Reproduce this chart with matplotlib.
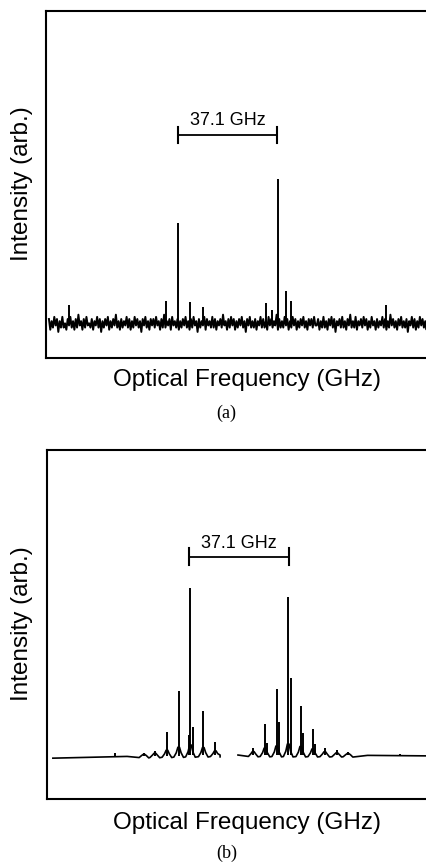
import numpy as np
import matplotlib
matplotlib.use("Agg")
import matplotlib.pyplot as plt

plt.rcParams['font.family'] = ['Liberation Sans', 'DejaVu Sans']

# ---- panel (a): noisy spectrum, two comb lines 37.1 GHz apart ----
a_base = 0.100
a_noise_unit = 0.0062
a_noise_start, a_noise_end = 1.1, 151.0
a_noise = [
    2, -3, 1, -2, 3, -1, 2, -4, 1, -2, 3, -2, 0, -3, 2, -1, 3, -2, 1, -3,
    2, -2, 4, -1, 1, -3, 2, -2, 3, -1, 0, -2, 2, -3, 1, -1, 3, -2, 2, -4,
    1, -2, 2, -1, 3, -3, 1, -2, 2, -1, 4, -2, 1, -3, 2, -2, 1, -1, 3, -2,
    2, -3, 1, -2, 3, -1, 2, -2, 1, -4, 2, -1, 3, -2, 1, -3, 2, -1, 2, -2,
    3, -1, 1, -3, 2, -2, 4, -2, 1, -1, 2, -3, 3, -1, 1, -2, 2, -3, 1, -2,
    2, -1, 3, -2, 1, -3, 2, -2, 3, -1, 1, -4, 2, -2, 1, -1, 3, -3, 2, -1,
    1, -2, 3, -2, 2, -3, 1, -1, 2, -2, 4, -1, 1, -3, 2, -2, 3, -1, 2, -3,
    1, -2, 2, -1, 3, -2, 1, -4, 2, -1, 3, -2, 1, -2, 2, -3, 1, -1, 3, -2,
    2, -2, 1, -3, 3, -1, 2, -2, 1, -1, 4, -3, 2, -2, 1, -2, 3, -1, 2, -3,
    1, -2, 3, -1, 2, -3, 1, -2, 2, -1, 3, -2, 1, -3, 2, -1, 2, -2, 3, -1,
    -1, 2, -3, 1, -2, 3, -2, 1, -3, 2, -1, 3, -2, 2, -4, 1, -1, 2, -2, 3,
    -2, 1, -3, 2, -1, 4, -2, 1, -2, 3, -3, 1, -1, 2, -2, 3, -1, 2, -3, 1,
    -2, 3, -1, 1, -3, 2, -2, 1, -1, 3, -2, 2, -3, 1, -2, 4, -1, 2, -2, 1,
    -3, 2, -1, 3, -2, 1, -2, 2, -4, 1, -1, 3, -2, 2, -3, 1, -2, 3, -1, 2,
    -2, 1, -3, 3, -1, 2, -2, 1, -1, 3, -3, 2, -2, 1, -2, 4, -1, 2, -3, 1,
]
a_peak_f = [8.7, 44.9, 49.4, 54.0, 58.8, 82.3, 84.5, 86.9, 89.7, 91.7, 127.3]
a_peak_h = [0.153, 0.165, 0.390, 0.162, 0.147, 0.159, 0.138, 0.515, 0.193, 0.164, 0.153]
a_span = (49.4, 86.5)

# ---- panel (b): clean spectrum, two comb groups ----
b_base_f = [2.2, 30.0, 64.8]
b_base_y = [0.117, 0.122, 0.126]
b_base2_f = [71.5, 120.0, 151.0]
b_base2_y = [0.126, 0.125, 0.123]
b_peak_f = [25.5, 36.3, 40.4, 44.9, 49.3, 53.2, 53.7, 54.5, 58.5, 63.0,
            77.2, 81.6, 82.5, 86.0, 86.7, 90.3, 91.2, 95.0, 95.8, 99.5,
            100.3, 104.0, 108.5, 112.7, 132.2]
b_peak_h = [0.133, 0.133, 0.138, 0.191, 0.310, 0.183, 0.605, 0.207, 0.253, 0.162,
            0.147, 0.215, 0.160, 0.314, 0.221, 0.580, 0.346, 0.267, 0.189, 0.201,
            0.158, 0.145, 0.140, 0.136, 0.130]
b_hump = [0.0, 0.005, 0.008, 0.016, 0.024, 0.0, 0.030, 0.0, 0.022, 0.012,
          0.010, 0.020, 0.0, 0.026, 0.0, 0.032, 0.0, 0.025, 0.0, 0.018,
          0.0, 0.010, 0.007, 0.005, 0.0]
b_span = (53.2, 90.6)

span_label = "37.1 GHz"
xlabel = "Optical Frequency (GHz)"
ylabel = "Intensity (arb.)"
xlim = (0, 150.5)

W, H = 426, 864
fig = plt.figure(figsize=(W / 100, H / 100), dpi=100)
ax_a = fig.add_axes([46 / W, 1 - 358 / H, 402 / W, 347 / H])
ax_b = fig.add_axes([47 / W, 1 - 799 / H, 402 / W, 349 / H])

for ax in (ax_a, ax_b):
    ax.set_xlim(*xlim)
    ax.set_ylim(0, 1)
    ax.set_xticks([])
    ax.set_yticks([])
    for s in ax.spines.values():
        s.set_linewidth(1.5)
        s.set_color('black')


def bracket(ax, x0, x1, y, tick, label, lx, ly):
    ax.plot([x0, x1], [y, y], color='black', lw=1.3)
    ax.plot([x0, x0], [y - tick, y + tick], color='black', lw=1.5)
    ax.plot([x1, x1], [y - tick, y + tick], color='black', lw=1.5)
    ax.text(lx, ly, label, ha='center', va='center', fontsize=13)


# panel (a)
nx = np.linspace(a_noise_start, a_noise_end, len(a_noise))
ny = a_base + np.array(a_noise) * a_noise_unit
ax_a.plot(nx, ny, color='black', lw=1.4)
ax_a.vlines(a_peak_f, a_base, a_peak_h, color='black', lw=1.4)
bracket(ax_a, a_span[0], a_span[1], 0.643, 0.022, span_label, 68.1, 0.684)

# panel (b): baseline with humps under the comb lines
def trace(base_f, base_y, peaks):
    xs = list(base_f)
    ys = list(base_y)
    lo, hi = base_f[0], base_f[-1]
    for f, hump in peaks:
        if hump <= 0 or not (lo < f < hi):
            continue
        b = np.interp(f, base_f, base_y)
        xs += [f - 1.8, f - 0.9, f - 0.3, f + 0.3, f + 0.9, f + 1.8]
        ys += [b - 0.004, b + hump * 0.35, b + hump, b + hump, b + hump * 0.35, b - 0.005]
    order = np.argsort(xs)
    return np.array(xs)[order], np.array(ys)[order]


peaks = list(zip(b_peak_f, b_hump))
x1, y1 = trace(b_base_f, b_base_y, peaks)
x2, y2 = trace(b_base2_f, b_base2_y, peaks)
ax_b.plot(x1, y1, color='black', lw=1.2)
ax_b.plot(x2, y2, color='black', lw=1.2)
b_lo = np.interp(b_peak_f, b_base_f + b_base2_f, b_base_y + b_base2_y)
ax_b.vlines(b_peak_f, b_lo, b_peak_h, color='black', lw=1.4)
bracket(ax_b, b_span[0], b_span[1], 0.694, 0.024, span_label, 72.0, 0.731)

# labels
for yc, xl_y, tag, tag_y in [(0.787, 0.560, "(a)", 0.522), (0.2784, 0.0471, "(b)", 0.0127)]:
    fig.text(22 / W, yc, ylabel, rotation=90, ha='center', va='center', fontsize=17.5)
    fig.text(0.580, xl_y, xlabel, ha='center', va='center', fontsize=17.5)
    fig.text(0.532, tag_y, tag, ha='center', va='center', fontsize=13,
             family=['Liberation Serif', 'DejaVu Serif'])

fig.savefig("out.png", dpi=100)
